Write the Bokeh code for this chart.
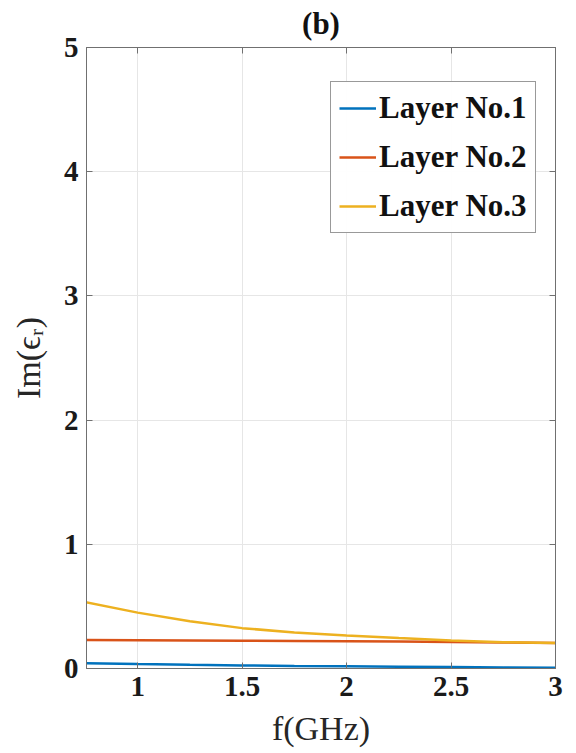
from bokeh.plotting import figure
from bokeh.models import Range1d, LinearAxis, FixedTicker, Legend, LegendItem, CustomJSTickFormatter
from bokeh.embed import file_html
from bokeh.resources import INLINE

freq = [0.75, 1.0, 1.25, 1.5, 1.75, 2.0, 2.25, 2.5, 2.75, 3.0]
layer1 = [0.043, 0.036, 0.030, 0.025, 0.021, 0.018, 0.015, 0.012, 0.009, 0.006]
layer2 = [0.230, 0.228, 0.226, 0.224, 0.222, 0.220, 0.217, 0.214, 0.210, 0.205]
layer3 = [0.535, 0.450, 0.380, 0.325, 0.290, 0.266, 0.245, 0.226, 0.212, 0.205]
names = ["Layer No.1", "Layer No.2", "Layer No.3"]
colors = ["#0072BD", "#D95319", "#EDB120"]
xticks = [1, 1.5, 2, 2.5, 3]
yticks = [0, 1, 2, 3, 4, 5]

FONT = "Liberation Serif"

p = figure(width=576, height=753, output_backend="svg", toolbar_location=None,
           x_range=Range1d(0.755, 3.0), y_range=Range1d(0, 5),
           min_border_left=86, min_border_right=21, min_border_top=0, min_border_bottom=85,
           x_axis_location=None, y_axis_location=None)
p.title.text = "(b)"
p.title.align = "center"
p.title.vertical_align = "top"
p.title.text_font = FONT
p.title.text_font_size = "31px"
p.title.text_font_style = "bold"
p.title.text_color = "#111111"
p.title.standoff = 10

xa = LinearAxis(ticker=FixedTicker(ticks=xticks), axis_label="f(GHz)")
ya = LinearAxis(ticker=FixedTicker(ticks=yticks), axis_label="Im(ϵᵣ)")
for ax in (xa, ya):
    ax.major_label_text_font = FONT
    ax.major_label_text_font_style = "bold"
    ax.major_label_text_font_size = "29px"
    ax.major_label_text_color = "#1a1a1a"
    ax.axis_label_text_font = FONT
    ax.axis_label_text_font_style = "normal"
    ax.axis_label_text_font_size = "34px"
    ax.axis_label_text_color = "#262626"
    ax.axis_line_color = "#707070"
    ax.major_tick_line_color = "#707070"
    ax.major_tick_in = 6
    ax.major_tick_out = 0
    ax.minor_tick_line_color = None
xa.major_label_standoff = 8
xa.axis_label_standoff = 11
ya.major_label_standoff = 8
ya.axis_label_standoff = 14
p.add_layout(xa, "below")
p.add_layout(ya, "left")

blank = CustomJSTickFormatter(code="return ''")
xt = LinearAxis(ticker=FixedTicker(ticks=xticks), formatter=blank,
                axis_line_color="#707070", major_tick_line_color="#707070",
                major_tick_in=6, major_tick_out=0, minor_tick_line_color=None,
                major_label_standoff=0)
yr = LinearAxis(ticker=FixedTicker(ticks=yticks), formatter=blank,
                axis_line_color="#707070", major_tick_line_color="#707070",
                major_tick_in=6, major_tick_out=0, minor_tick_line_color=None,
                major_label_standoff=0)
p.add_layout(xt, "above")
p.add_layout(yr, "right")

p.xgrid.ticker = FixedTicker(ticks=xticks)
p.ygrid.ticker = FixedTicker(ticks=yticks)
p.xgrid.grid_line_color = "#e6e6e6"
p.ygrid.grid_line_color = "#e6e6e6"
p.outline_line_color = "#707070"

items = []
for ys, c, n in zip([layer1, layer2, layer3], colors, names):
    r = p.line(freq, ys, line_color=c, line_width=2.5)
    items.append(LegendItem(label=n, renderers=[r]))

legend = Legend(items=items, location=(244, 435))
legend.label_text_font = FONT
legend.label_text_font_style = "bold"
legend.label_text_font_size = "31px"
legend.label_text_color = "#111111"
legend.glyph_width = 37
legend.label_height = 36
legend.glyph_height = 36
legend.label_standoff = 3
legend.spacing = 13
legend.padding = 8
legend.margin = 0
legend.border_line_color = "#333333"
legend.border_line_width = 1
p.add_layout(legend)

open("out.html", "w").write(file_html(p, INLINE))
